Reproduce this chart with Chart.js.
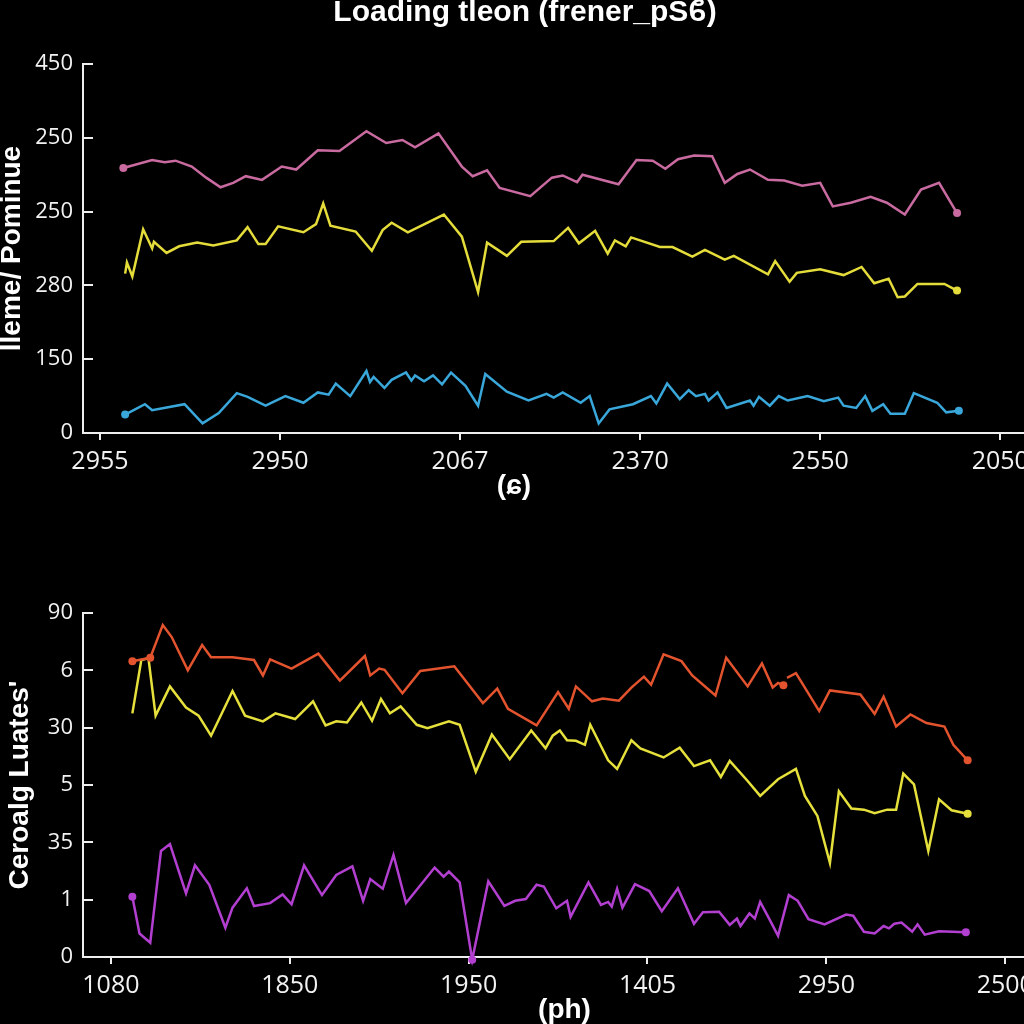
<!DOCTYPE html>
<html>
<head>
<meta charset="utf-8">
<title>Loading tleon</title>
<script src="https://cdn.jsdelivr.net/npm/chart.js"></script>
<style>
    html, body { margin: 0; padding: 0; background: #000; overflow: hidden; width: 1024px; height: 1024px; }
    canvas { position: absolute; left: 0; }
    #topChart { top: -5px; }
    #bottomChart { top: 560px; }
</style>
</head>
<body>
<canvas id="topChart" width="1050" height="508"></canvas>
<canvas id="bottomChart" width="1050" height="467"></canvas>
<script>
// --- Data (x in axis units, ticks every 10) ---
const topXLabels = ['2955', '2950', '2067', '2370', '2550', '2050'];
const topYLabels = ['0', '150', '280', '250', '250', '450'];
const bottomXLabels = ['1080', '1850', '1950', '1405', '2950', '2500'];
const bottomYLabels = ['0', '1', '35', '5', '30', '6', '90'];

const pinkTop = [[1.3,35.9],[2.9,37.0],[3.6,36.7],[4.2,36.9],[5.1,36.1],[5.9,34.6],[6.7,33.3],[7.4,33.9],[8.1,34.8],[9.0,34.3],[10.1,36.1],[10.9,35.7],[12.1,38.3],[13.3,38.2],[14.8,40.9],[15.9,39.3],[16.8,39.7],[17.5,38.7],[18.8,40.6],[20.1,36.1],[20.7,34.8],[21.5,35.6],[22.2,33.2],[23.9,32.1],[25.1,34.6],[25.7,34.9],[26.5,34.0],[26.8,35.0],[28.8,33.7],[29.8,37.0],[30.7,36.9],[31.4,35.8],[32.1,37.1],[33.0,37.6],[34.0,37.5],[34.7,33.9],[35.4,35.1],[36.1,35.7],[37.1,34.3],[38.0,34.2],[39.0,33.5],[40.0,33.9],[40.7,30.7],[41.7,31.2],[42.8,32.0],[43.7,31.2],[44.7,29.6],[45.6,33.0],[46.6,33.9],[47.6,29.8]];
const yellowTop = [[1.4,21.6],[1.5,23.1],[1.8,21.2],[2.4,27.6],[2.9,25.0],[3.0,25.9],[3.7,24.4],[4.4,25.3],[5.4,25.8],[6.3,25.4],[7.6,26.1],[8.2,27.9],[8.8,25.6],[9.2,25.6],[9.9,28.0],[11.3,27.2],[12.0,28.3],[12.4,31.1],[12.8,28.1],[14.2,27.3],[15.1,24.7],[15.7,27.5],[16.2,28.5],[17.1,27.2],[19.1,29.6],[20.1,26.6],[21.0,19.1],[21.5,25.8],[22.6,24.0],[23.4,25.9],[25.2,26.0],[26.0,27.8],[26.6,25.7],[27.5,27.4],[28.2,24.3],[28.6,26.1],[29.2,25.3],[29.5,26.5],[31.1,25.2],[31.8,25.2],[32.9,23.9],[33.6,24.8],[34.7,23.5],[35.2,24.0],[37.1,21.5],[37.5,23.3],[38.3,20.5],[38.7,21.7],[40.0,22.2],[41.3,21.4],[42.3,22.5],[43.0,20.3],[43.8,20.9],[44.3,18.4],[44.7,18.5],[45.4,20.2],[46.9,20.2],[47.6,19.3]];
const blueTop = [[1.4,2.5],[2.5,3.9],[2.9,3.1],[4.7,3.9],[5.7,1.3],[6.6,2.7],[7.6,5.4],[8.2,4.9],[9.2,3.7],[10.3,5.0],[11.3,4.1],[12.1,5.5],[12.7,5.2],[13.1,6.7],[13.9,5.0],[14.8,8.4],[15.0,6.9],[15.2,7.6],[15.8,6.1],[16.2,7.2],[17.0,8.2],[17.3,7.1],[17.5,7.8],[18.0,7.0],[18.5,7.8],[19.0,6.6],[19.5,8.2],[20.3,6.4],[21.0,3.7],[21.4,8.0],[22.6,5.6],[23.8,4.4],[24.8,5.3],[25.2,4.8],[25.7,5.5],[26.7,4.1],[27.2,5.0],[27.7,1.3],[28.3,3.2],[29.6,3.9],[30.6,5.0],[30.9,4.0],[31.5,6.7],[32.2,4.6],[32.7,5.8],[33.1,5.0],[33.6,5.3],[33.8,4.4],[34.3,5.5],[34.8,3.4],[36.1,4.4],[36.3,3.7],[36.6,4.9],[37.2,3.7],[37.7,5.0],[38.2,4.4],[39.3,5.0],[40.2,4.3],[41.0,4.8],[41.3,3.7],[42.0,3.4],[42.5,5.0],[42.9,3.0],[43.5,3.9],[43.9,2.6],[44.7,2.6],[45.2,5.4],[46.5,4.1],[47.0,2.8],[47.7,3.0]];

const redBottom = [[1.2,51.6],[1.7,51.9],[2.2,52.2],[2.9,57.9],[3.4,55.8],[4.3,50.0],[5.1,54.4],[5.6,52.3],[6.8,52.3],[8.0,51.8],[8.5,49.1],[8.9,51.9],[10.1,50.3],[11.6,52.9],[12.8,48.2],[14.2,52.5],[14.5,49.1],[15.0,50.3],[15.3,50.1],[16.3,46.0],[17.3,49.9],[19.2,50.7],[20.8,44.3],[21.6,46.8],[22.2,43.3],[23.8,40.4],[25.0,46.2],[25.6,43.3],[26.0,47.2],[26.9,44.6],[27.5,45.1],[28.4,44.7],[29.1,47.0],[29.8,48.9],[30.2,47.5],[30.9,52.8],[31.9,51.6],[32.5,49.1],[33.8,45.6],[34.4,52.2],[35.6,47.2],[36.4,51.2],[37.0,47.0],[37.3,47.8],[37.6,47.4],[37.7,null],[37.8,48.7],[38.3,49.5],[39.6,42.9],[40.2,46.5],[41.9,45.8],[42.7,42.4],[43.2,45.4],[43.9,40.2],[44.7,42.3],[45.6,40.8],[46.6,40.2],[47.1,37.0],[47.9,34.3]];
const yellowBottom = [[1.2,42.5],[1.7,51.8],[2.1,52.1],[2.5,42.1],[3.3,47.2],[4.2,43.5],[4.9,42.1],[5.6,38.6],[6.8,46.4],[7.5,42.1],[8.5,41.1],[9.2,42.5],[10.3,41.5],[11.3,44.6],[12.0,40.4],[12.6,41.1],[13.2,40.9],[14.0,44.4],[14.6,41.2],[15.1,45.0],[15.6,42.5],[16.2,43.7],[17.1,40.5],[17.7,39.9],[18.9,41.1],[19.5,40.5],[20.4,32.3],[21.3,38.8],[22.3,34.5],[23.5,39.5],[24.3,36.4],[24.7,38.6],[25.1,39.5],[25.5,37.8],[26.0,37.7],[26.5,37.0],[26.8,40.5],[27.8,34.3],[28.3,32.8],[29.1,37.8],[29.6,36.4],[30.9,34.8],[31.8,36.5],[32.6,33.3],[33.5,34.3],[34.1,31.4],[34.6,34.2],[35.6,30.7],[36.3,28.1],[37.3,31.0],[38.3,32.8],[38.8,28.1],[39.5,24.6],[40.2,16.4],[40.7,28.9],[41.4,25.9],[42.1,25.7],[42.7,25.1],[43.4,25.7],[43.9,25.7],[44.3,32.0],[44.9,30.1],[45.7,18.5],[46.3,27.5],[47.0,25.6],[47.9,25.0]];
const purpleBottom = [[1.2,10.5],[1.6,4.1],[2.2,2.5],[2.8,18.5],[3.3,19.7],[4.2,11.1],[4.7,16.0],[5.5,12.6],[6.4,5.1],[6.8,8.6],[7.6,12.0],[8.0,8.9],[8.9,9.4],[9.6,10.9],[10.1,9.2],[10.8,16.0],[11.8,10.8],[12.6,14.3],[13.5,15.8],[14.1,9.8],[14.5,13.6],[15.2,11.9],[15.8,17.8],[16.5,9.4],[18.1,15.6],[18.6,14.0],[18.9,14.9],[19.5,13.0],[20.2,-0.5],[21.1,13.2],[22.0,8.9],[22.6,9.8],[23.2,10.1],[23.8,12.6],[24.2,12.3],[24.9,8.5],[25.5,9.8],[25.7,7.0],[26.7,13.0],[27.4,9.1],[27.8,9.6],[28.0,8.8],[28.3,11.9],[28.6,8.6],[29.3,12.7],[30.1,11.5],[30.8,8.0],[31.7,12.0],[32.6,5.8],[33.1,7.8],[34.0,7.9],[34.6,5.6],[35.0,6.7],[35.2,5.4],[35.7,7.6],[36.0,6.7],[36.3,9.6],[36.8,6.7],[37.3,3.7],[37.9,10.8],[38.4,9.8],[39.0,6.6],[39.9,5.7],[41.1,7.4],[41.5,7.2],[42.1,4.4],[42.7,4.1],[43.2,5.4],[43.5,5.0],[43.8,5.8],[44.2,6.0],[44.8,4.4],[45.1,5.7],[45.5,3.9],[46.3,4.5],[47.8,4.3]];

// --- Styling ---
const yTickFont = { family: "'Open Sans', sans-serif", size: 22 };
const xTickFont = { family: "'Open Sans', sans-serif", size: 25 };
const titleFont = { family: "'Liberation Sans', Arial, sans-serif", size: 28, weight: 'bold' };
const axisColor = '#eeeeee';

// dots: indices that get a marker, negative counts from the end
function lineSet(points, color, dots) {
    const last = points.length - 1;
    const marked = dots.map(i => i < 0 ? last + 1 + i : i);
    return {
        data: points.map(([x, y]) => ({ x, y })),
        borderColor: color,
        backgroundColor: color,
        borderWidth: 2.5,
        tension: 0,
        pointRadius: ctx => marked.includes(ctx.dataIndex) ? 4 : 0,
        pointBorderWidth: 0,
        clip: false
    };
}

function buildScales(o) {
    return {
        x: {
            type: 'linear',
            min: o.xMin,
            max: o.xMax,
            afterBuildTicks: s => { s.ticks = o.xLabels.map((_, i) => ({ value: i * 10 })); },
            afterFit: s => { s.height = 70; },
            ticks: { color: '#f2f2f2', font: xTickFont, padding: o.xPad, autoSkip: false, maxRotation: 0,
                     callback: v => o.xLabels[Math.round(v / 10)] },
            grid: { drawOnChartArea: false, color: axisColor, lineWidth: 2, tickLength: 7 },
            border: { color: axisColor, width: 2 },
            title: { display: true, text: o.xTitle, color: '#ffffff', font: titleFont,
                     padding: { top: 0, bottom: o.xTitlePad } }
        },
        y: {
            type: 'linear',
            min: 0,
            max: (o.yLabels.length - 1) * 10,
            afterBuildTicks: s => { s.ticks = o.yLabels.map((_, i) => ({ value: i * 10 })); },
            afterFit: s => { s.width = 83; },
            ticks: { color: '#f2f2f2', font: yTickFont, padding: 20,
                     callback: v => o.yLabels[Math.round(v / 10)] },
            // negative length puts the tick marks inside the plot
            grid: { drawOnChartArea: false, color: axisColor, lineWidth: 2, tickLength: -10 },
            border: { color: axisColor, width: 2 },
            title: { display: true, text: o.yTitle, color: '#ffffff',
                     font: Object.assign({}, titleFont, { lineHeight: 1 }),
                     padding: { top: o.yTitlePad, bottom: 0 } }
        }
    };
}

new Chart(document.getElementById('topChart'), {
    type: 'line',
    data: {
        datasets: [
            lineSet(pinkTop, '#c96ba0', [0, -1]),
            lineSet(yellowTop, '#e4dc3a', [-1]),
            lineSet(blueTop, '#39a7da', [0, -1])
        ]
    },
    options: {
        responsive: false,
        animation: false,
        layout: { padding: 0 },
        plugins: {
            legend: { display: false },
            tooltip: { enabled: false },
            title: { display: true, text: 'Loading tleon (frener_pSϐ)', color: '#ffffff',
                     font: { family: "'Liberation Sans', Arial, sans-serif", size: 30, weight: 'bold' },
                     padding: { top: 0, bottom: 33 } }
        },
        scales: buildScales({
            xMin: -0.94, xMax: 52.54, xLabels: topXLabels, xPad: 7,
            // trailing spaces pull the centred title left, as in the source
            xTitle: '(ɕ)' + ' '.repeat(13), xTitlePad: 0,
            yLabels: topYLabels, yTitle: 'lleme/ Pominue', yTitlePad: -2
        })
    }
});

new Chart(document.getElementById('bottomChart'), {
    type: 'line',
    data: {
        datasets: [
            lineSet(redBottom, '#e2532e', [0, 2, 44, -1]),
            lineSet(yellowBottom, '#e6e03c', [-1]),
            lineSet(purpleBottom, '#b23fd0', [0, 28, -1])
        ]
    },
    options: {
        responsive: false,
        animation: false,
        layout: { padding: { top: 53 } },
        plugins: {
            legend: { display: false },
            tooltip: { enabled: false }
        },
        scales: buildScales({
            xMin: -1.56, xMax: 52.28, xLabels: bottomXLabels, xPad: 7,
            xTitle: '(ph)', xTitlePad: 0,
            yLabels: bottomYLabels, yTitle: "Ceroalg Luates'", yTitlePad: 6
        })
    }
});
</script>
</body>
</html>
